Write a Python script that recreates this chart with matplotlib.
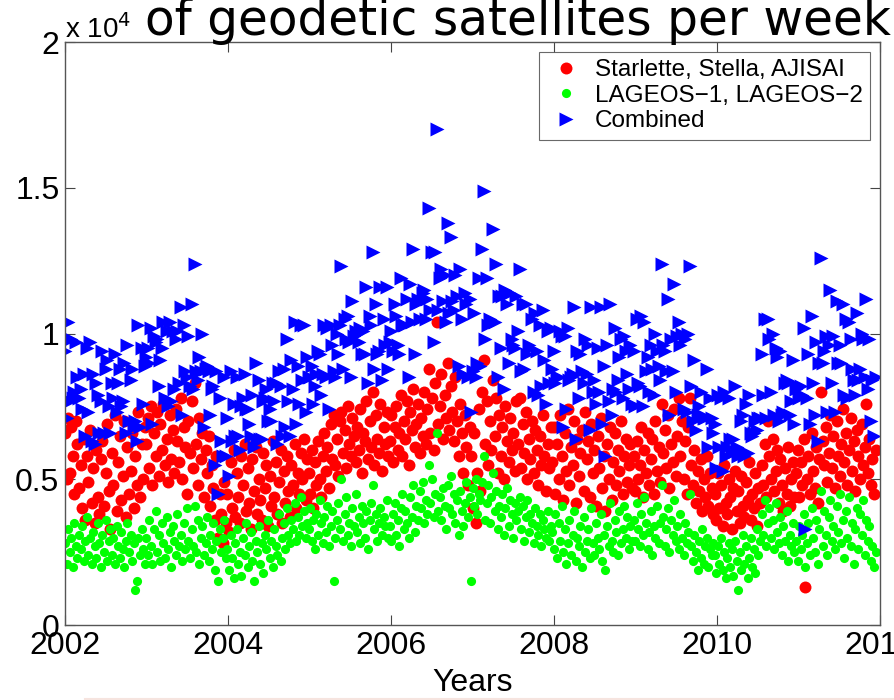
import numpy as np
import matplotlib.pyplot as plt
from matplotlib.lines import Line2D
from matplotlib.ticker import FuncFormatter

# weekly normal points, in hundreds (x100), one row per year 2002..2011
red_2002 = [66, 50, 71, 52, 68, 58, 45, 70, 62, 47, 55, 40, 64, 36, 58, 49, 67, 42, 54, 35, 60, 44, 38, 57, 63, 41,
            52, 69, 46, 33, 59, 48, 72, 39, 56, 65, 43, 51, 70, 37, 61, 45, 53, 66, 40, 58, 48, 73, 44, 62, 50, 68]
red_2003 = [62, 71, 54, 75, 48, 66, 58, 73, 51, 69, 60, 76, 55, 64, 49, 72, 57, 67, 52, 74, 63, 56, 78, 50, 68, 61,
            45, 70, 59, 77, 54, 83, 62, 48, 71, 57, 66, 44, 60, 52, 65, 41, 55, 47, 36, 58, 30, 45, 38, 28, 49, 35]
red_2004 = [45, 32, 56, 40, 60, 37, 52, 44, 35, 58, 48, 62, 39, 54, 42, 33, 57, 46, 61, 38, 50, 43, 36, 59, 47, 55,
            34, 51, 41, 63, 44, 56, 38, 49, 60, 35, 53, 42, 58, 46, 37, 55, 48, 62, 40, 52, 45, 59, 50, 64, 43, 57]
red_2005 = [52, 45, 60, 40, 56, 48, 63, 50, 44, 58, 66, 53, 61, 47, 69, 57, 72, 55, 64, 51, 70, 73, 59, 67, 54, 75,
            62, 58, 71, 65, 56, 68, 60, 74, 52, 66, 63, 77, 57, 70, 61, 80, 55, 72, 64, 59, 76, 53, 68, 62, 73, 58]
red_2006 = [63, 72, 56, 68, 75, 60, 66, 79, 58, 70, 64, 77, 55, 73, 67, 81, 61, 69, 76, 59, 71, 65, 80, 62, 74, 88,
            66, 78, 60, 83, 104, 69, 75, 86, 64, 79, 71, 90, 67, 82, 73, 63, 85, 70, 58, 76, 66, 52, 72, 61, 48, 68]
red_2007 = [58, 40, 66, 35, 52, 74, 46, 80, 91, 62, 77, 55, 70, 60, 84, 65, 78, 52, 72, 58, 68, 50, 75, 63, 56, 71,
            60, 66, 53, 77, 62, 78, 54, 69, 59, 73, 50, 64, 57, 70, 52, 67, 60, 48, 65, 55, 72, 58, 46, 62, 54, 68]
red_2008 = [56, 68, 45, 62, 50, 72, 58, 43, 66, 53, 74, 48, 61, 55, 70, 42, 64, 51, 59, 67, 46, 73, 57, 63, 44, 69,
            52, 60, 41, 65, 54, 71, 47, 58, 39, 62, 50, 68, 43, 56, 66, 48, 60, 53, 70, 45, 58, 64, 49, 55, 62, 47]
red_2009 = [58, 46, 63, 50, 55, 68, 44, 60, 52, 66, 48, 57, 64, 45, 70, 53, 61, 49, 76, 59, 67, 54, 72, 47, 62, 56,
            74, 51, 65, 78, 58, 70, 50, 63, 45, 68, 78, 55, 48, 60, 42, 53, 46, 57, 39, 50, 44, 58, 41, 52, 47, 38]
red_2010 = [45, 36, 52, 40, 48, 34, 55, 42, 38, 50, 44, 33, 47, 53, 39, 46, 35, 51, 41, 37, 49, 43, 56, 36, 45, 40,
            52, 34, 47, 42, 55, 48, 62, 44, 70, 58, 50, 64, 46, 53, 60, 42, 57, 48, 39, 54, 45, 61, 41, 50, 56, 44]
red_2011 = [52, 60, 44, 56, 48, 64, 13, 50, 58, 45, 66, 53, 47, 61, 42, 57, 80, 63, 55, 68, 49, 59, 72, 54, 65, 47,
            70, 58, 51, 62, 74, 56, 66, 48, 60, 71, 53, 63, 46, 67, 58, 50, 69, 55, 61, 76, 52, 64, 48, 57, 45, 60]

green_2002 = [28, 21, 33, 25, 30, 20, 35, 27, 23, 31, 26, 34, 22, 29, 37, 24, 30, 21, 32, 27, 23, 35, 28, 20, 31, 25,
              36, 22, 29, 33, 24, 30, 21, 34, 27, 23, 32, 26, 20, 29, 35, 25, 31, 22, 28, 12, 15, 30, 24, 33, 26, 21]
green_2003 = [30, 24, 36, 27, 21, 33, 39, 25, 31, 22, 35, 28, 23, 37, 26, 32, 20, 34, 29, 24, 38, 27, 31, 22, 35, 26,
              40, 29, 23, 33, 27, 41, 25, 36, 21, 30, 34, 24, 28, 37, 22, 31, 26, 35, 19, 29, 15, 33, 25, 30, 36, 23]
green_2004 = [26, 19, 31, 23, 16, 28, 33, 21, 25, 17, 30, 24, 35, 20, 27, 32, 22, 15, 29, 25, 34, 21, 28, 18, 31, 26,
              36, 23, 29, 20, 33, 27, 24, 38, 22, 30, 35, 26, 40, 31, 28, 36, 33, 42, 29, 37, 31, 44, 34, 39, 30, 35]
green_2005 = [33, 40, 29, 36, 26, 38, 31, 43, 35, 28, 37, 32, 41, 27, 34, 39, 15, 30, 36, 42, 33, 50, 29, 38, 44, 31,
              35, 27, 40, 34, 45, 32, 37, 28, 41, 35, 30, 39, 26, 36, 42, 48, 33, 38, 29, 35, 40, 31, 37, 34, 43, 30]
green_2006 = [34, 29, 38, 42, 31, 36, 27, 40, 45, 33, 39, 35, 30, 44, 37, 48, 32, 41, 36, 46, 40, 49, 35, 43, 38, 55,
              42, 50, 37, 45, 66, 39, 44, 36, 47, 41, 33, 48, 40, 51, 38, 45, 35, 43, 31, 46, 39, 34, 42, 49, 37, 44]
green_2007 = [15, 47, 41, 50, 38, 45, 43, 49, 58, 36, 42, 48, 35, 44, 52, 39, 46, 33, 41, 37, 45, 31, 40, 47, 34, 43,
              38, 30, 42, 36, 39, 44, 33, 41, 29, 37, 43, 32, 38, 35, 28, 40, 34, 31, 38, 27, 36, 33, 30, 39, 29, 34]
green_2008 = [32, 26, 38, 23, 35, 29, 41, 25, 33, 21, 28, 36, 24, 31, 39, 22, 30, 27, 34, 20, 37, 25, 29, 33, 23, 40,
              28, 24, 35, 30, 26, 38, 22, 31, 19, 34, 27, 42, 29, 25, 36, 32, 24, 39, 28, 33, 41, 30, 37, 26, 34, 29]
green_2009 = [36, 29, 42, 33, 27, 38, 31, 44, 35, 26, 32, 39, 24, 34, 30, 41, 28, 35, 48, 37, 27, 33, 40, 25, 36, 31,
              43, 29, 34, 26, 38, 30, 24, 35, 28, 32, 45, 27, 22, 31, 25, 19, 29, 23, 33, 21, 27, 30, 20, 26, 24, 28]
green_2010 = [24, 18, 27, 21, 30, 19, 25, 16, 23, 28, 20, 26, 17, 29, 22, 12, 25, 19, 31, 21, 27, 16, 23, 30, 20, 26,
              18, 33, 24, 29, 38, 31, 43, 27, 35, 40, 30, 36, 26, 42, 32, 28, 37, 24, 34, 29, 39, 22, 31, 27, 35, 25]
green_2011 = [29, 22, 34, 26, 31, 38, 20, 28, 35, 24, 40, 30, 25, 36, 21, 33, 46, 27, 39, 31, 24, 37, 43, 29, 34, 26,
              41, 32, 45, 28, 36, 23, 39, 30, 44, 27, 35, 21, 33, 40, 26, 38, 31, 43, 24, 36, 29, 34, 22, 27, 20, 25]

labels = ['Starlette, Stella, AJISAI', 'LAGEOS\u22121, LAGEOS\u22122', 'Combined']
year_ticks = [2002, 2004, 2006, 2008, 2010, 2012]
y_ticks = [0, 5000, 10000, 15000, 20000]

red = np.array(red_2002 + red_2003 + red_2004 + red_2005 + red_2006 +
               red_2007 + red_2008 + red_2009 + red_2010 + red_2011) * 100.0
green = np.array(green_2002 + green_2003 + green_2004 + green_2005 + green_2006 +
                 green_2007 + green_2008 + green_2009 + green_2010 + green_2011) * 100.0
n = min(len(red), len(green))
red, green = red[:n], green[:n]
combined = red + green
weeks = 2002 + np.arange(n) * 7 / 365.25

plt.rcParams['font.family'] = ['Liberation Sans', 'DejaVu Sans']

fig = plt.figure(figsize=(8.94, 7.0), dpi=100)
ax = fig.add_axes([0.0727, 0.107, 0.9116, 0.833])

ax.plot(weeks, red, 'o', color='#ff0000', ms=8.6, mec='none', label=labels[0])
ax.plot(weeks, green, 'o', color='#00ff00', ms=6.6, mec='none', label=labels[1])
ax.plot(weeks, combined, '>', color='#0000ff', ms=9.5, mec='none', label=labels[2])

ax.set_xlim(2002, 2012)
ax.set_ylim(0, 20000)
ax.set_xticks(year_ticks)
ax.set_yticks(y_ticks)
ax.yaxis.set_major_formatter(FuncFormatter(lambda v, p: f'{v / 1e4:g}'))
ax.tick_params(direction='in', top=True, right=True, length=7, width=0.8,
               color='#444444', labelsize=23, pad=4)
for s in ax.spines.values():
    s.set_color('#555555')
    s.set_linewidth(1.0)

ax.set_xlabel('Years', fontsize=23, labelpad=5)
fig.text(0.073, 0.946, 'x 10$^4$', fontsize=20, va='baseline', ha='left')

fig.text(0.162, 0.95, 'of geodetic satellites per week', fontsize=35,
         family='DejaVu Sans', va='baseline', ha='left')

leg = ax.legend(loc='upper right', fontsize=17.5, frameon=True, fancybox=False,
                borderpad=0.3, handletextpad=0.4, labelspacing=0.15,
                borderaxespad=0.4, handlelength=1.6)
leg.get_frame().set_edgecolor('#444444')
leg.get_frame().set_linewidth(0.8)

fig.add_artist(Line2D([0.095, 1.0], [0.002, 0.002], color='#f6e4df', lw=1.5))

fig.savefig('out.png', dpi=100)
